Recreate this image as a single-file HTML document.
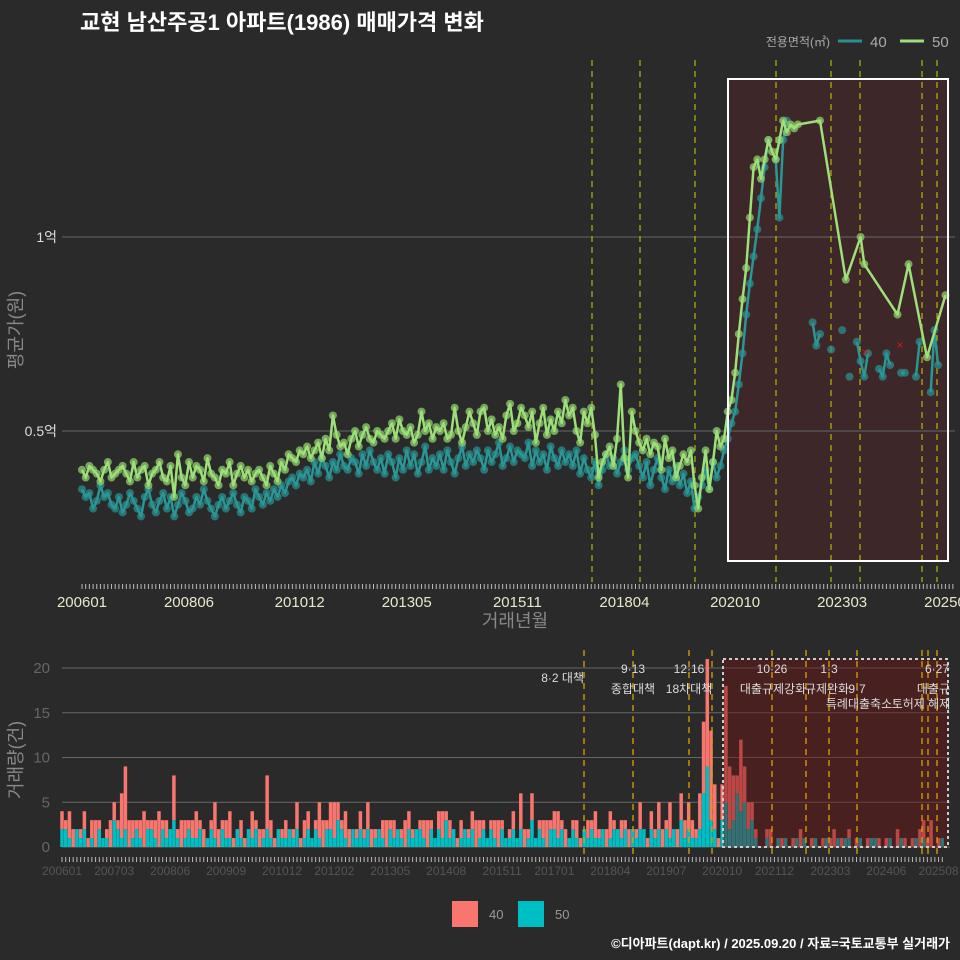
<!DOCTYPE html>
<html><head><meta charset="utf-8"><style>
html,body{margin:0;padding:0;background:#2a2a2b;}
svg{display:block;font-family:"Liberation Sans","Noto Sans CJK KR",sans-serif;}
</style></head><body>
<svg id="c" width="960" height="960" viewBox="0 0 960 960">
<rect x="0" y="0" width="960" height="960" fill="#2a2a2b"/>
<text x="80" y="30" fill="#ffffff" font-size="22" font-weight="bold">교현 남산주공1 아파트(1986) 매매가격 변화</text>
<g>
<text x="830" y="46" fill="#aaaaaa" font-size="12" text-anchor="end">전용면적(㎡)</text>
<line x1="838" y1="41" x2="862" y2="41" stroke="#2a8f8f" stroke-width="3"/>
<text x="870" y="47" fill="#aaaaaa" font-size="15">40</text>
<line x1="900" y1="41" x2="924" y2="41" stroke="#9de07a" stroke-width="3"/>
<text x="932" y="47" fill="#aaaaaa" font-size="15">50</text>
</g>
<g id="topg"></g>
<g id="botg"></g>
<g>
<rect x="452" y="901" width="26" height="26" fill="#f8766d"/>
<text x="489" y="919" fill="#999" font-size="13">40</text>
<rect x="518" y="901" width="26" height="26" fill="#00bfc4"/>
<text x="555" y="919" fill="#999" font-size="13">50</text>
</g>
<text x="950" y="948" fill="#ffffff" font-size="13" font-weight="bold" text-anchor="end">©디아파트(dapt.kr) / 2025.09.20 / 자료=국토교통부 실거래가</text>
</svg>
<script>
const price50 = [
.40,.38,.41,.40,.39,.37,.40,.42,.38,.39,.40,.41,
.39,.37,.42,.38,.40,.41,.36,.39,.40,.42,.38,.37,
.41,.33,.44,.38,.36,.42,.38,.41,.40,.37,.43,.39,
.38,.36,.40,.39,.42,.36,.39,.41,.38,.40,.37,.39,
.40,.38,.36,.41,.39,.37,.42,.40,.44,.43,.42,.45,
.44,.46,.43,.45,.47,.43,.48,.45,.54,.49,.46,.47,
.44,.48,.50,.46,.49,.51,.48,.47,.50,.49,.48,.50,
.52,.48,.53,.50,.49,.51,.47,.49,.55,.50,.52,.48,
.51,.50,.52,.48,.49,.56,.50,.47,.51,.55,.52,.49,
.55,.56,.50,.53,.49,.51,.48,.54,.57,.50,.52,.56,
.54,.51,.55,.47,.52,.56,.49,.53,.50,.55,.52,.58,
.54,.56,.50,.47,.55,.52,.56,.49,.38,.42,.44,.46,
.41,.48,.62,.43,.38,.55,.50,.47,.45,.48,.44,.47,
.46,.40,.48,.43,.45,.38,.41,.44,.42,.45,.36,.30,
.38,.45,.35,.42,.50,.46,.48,.55,.58,.65,.75,.84,
.92,1.05,1.18,1.20,1.15,1.20,1.25,1.22,1.20,1.25,1.30,1.27,
1.29,1.28,1.29,null,null,null,null,null,1.30,null,null,null,
null,null,null,.89,null,null,null,1.00,.93,null,null,null,
null,null,null,null,null,.80,null,null,.93,null,null,null,
null,.69,null,null,null,null,.85,null,null];
const price40 = [
.35,.33,.34,.30,.32,.36,.33,.34,.31,.30,.33,.29,
.31,.34,.32,.30,.28,.33,.35,.31,.29,.32,.34,.30,
.33,.28,.31,.34,.32,.29,.30,.33,.31,.35,.32,.30,
.28,.31,.33,.30,.32,.34,.31,.29,.33,.32,.30,.35,
.33,.31,.34,.32,.35,.33,.36,.34,.37,.38,.36,.39,
.38,.40,.37,.42,.39,.43,.41,.38,.42,.40,.44,.41,
.40,.43,.42,.39,.44,.41,.45,.42,.40,.43,.39,.44,
.42,.38,.43,.40,.45,.41,.44,.39,.42,.46,.40,.43,
.41,.44,.40,.45,.42,.39,.43,.46,.41,.44,.42,.45,
.43,.40,.45,.42,.44,.47,.41,.43,.46,.42,.45,.44,
.43,.47,.41,.45,.42,.44,.40,.46,.43,.41,.45,.42,
.44,.41,.45,.39,.43,.40,.38,.42,.36,.40,.44,.41,
.43,.39,.42,.45,.40,.43,.44,.41,.38,.42,.36,.40,
.43,.38,.35,.40,.37,.41,.36,.39,.34,.37,.30,.33,
.36,.40,.35,.42,.38,.41,.45,.48,.52,.55,.62,.70,
.80,.88,.95,1.02,1.10,1.18,1.25,null,1.20,1.05,1.25,1.30,
null,null,null,null,null,null,.78,.72,.75,null,null,.71,
null,null,.76,null,.64,null,.73,.68,.64,.70,null,null,
.66,.64,.70,.67,null,null,.65,.65,null,null,.64,.73,
null,null,.60,.76,.67,null,null,null,null];
const vol40 = [
2,1,3,2,0,1,2,1,2,3,1,0, 1,3,2,1,5,7,3,2,1,2,4,1, 1,2,4,1,2,0,5,1,3,2,1,2,
3,1,2,0,1,4,2,1,2,3,1,0, 2,1,0,3,1,2,1,6,2,1,0,1, 2,0,1,3,1,2,2,0,1,4,3,1,
3,4,2,1,3,2,0,1,2,1,3,2, 1,0,2,3,1,2,0,1,3,2,1,0, 1,2,3,1,0,2,3,1,2,0,1,2,
0,1,2,3,2,1,0,1,2,3,1,0, 1,2,0,4,2,1,3,0,1,2,3,1, 2,3,1,2,0,1,2,1,0,2,1,3,
1,0,2,3,1,0,2,1,2,0,1,3, 0,1,2,1,3,2,1,4,0,2,3,2, 3,2,1,4,8,12,10,5,1,4,13,7,
5,2,8,4,3,2,1,0,0,1,2,0, 0,1,0,0,1,0,2,0,0,1,0,0, 1,0,1,2,0,1,0,1,0,1,0,0,
1,0,0,1,0,1,0,0,2,0,1,0, 1,0,2,2,1,3,0,1,0];
const vol50 = [
2,2,1,0,2,1,2,0,1,0,2,1, 1,0,3,2,1,2,0,1,2,1,0,2, 2,1,0,2,1,2,3,1,0,1,2,1,
1,2,0,1,2,1,0,2,1,1,0,2, 1,0,2,1,2,0,1,2,1,0,2,1, 1,2,1,2,0,1,2,1,2,1,0,2,
2,1,3,2,1,0,2,1,2,1,2,0, 1,2,1,0,2,1,2,1,0,2,1,2, 2,1,0,2,1,2,1,3,1,2,0,1,
2,1,2,0,1,2,1,2,1,0,2,1, 1,2,1,2,0,1,3,1,2,1,0,2, 2,1,2,0,1,2,1,0,2,1,2,1,
1,2,0,1,2,2,1,2,0,2,1,2, 2,0,2,1,2,0,2,1,2,0,3,1, 2,1,1,2,6,9,3,2,0,3,5,2,
3,6,4,5,2,3,1,0,0,1,0,0, 1,0,1,0,0,1,0,1,0,0,1,0, 0,1,0,0,1,0,1,1,0,0,1,0,
0,1,1,0,0,0,1,0,0,1,0,0, 0,1,0,1,0,0,0,0,1];
const topTicks = ["200601","200806","201012","201305","201511","201804","202010","202303","202508"];
const botTicks = ["200601","200703","200806","200909","201012","201202","201305","201408","201511","201701","201804","201907","202010","202112","202303","202406","202508"];
const volTicks = [0,5,10,15,20];

const NS="http://www.w3.org/2000/svg";
function mk(parent,tag,attrs){const e=document.createElementNS(NS,tag);for(const k in attrs)e.setAttribute(k,attrs[k]);parent.appendChild(e);return e;}
function mIdx(s){return (parseInt(s.slice(0,4))-2006)*12+parseInt(s.slice(4,6))-1;}
const xT=m=>82+m*3.69;
const yT=v=>431-(v-0.5)*388;
const xB=m=>62+m*3.73;
const yB=v=>847-v*8.95;
const topG=document.getElementById('topg'), botG=document.getElementById('botg');

let hbf=mk(topG,'rect',{x:728,y:79,width:220,height:482,fill:'#3e2729'});


[[1,"1억"],[0.5,"0.5억"]].forEach(([v,l])=>{
 let g=mk(topG,'line',{x1:62,x2:955,y1:yT(v),y2:yT(v),stroke:'#666','stroke-width':1});
 
 
 let t=mk(topG,'text',{x:57,y:yT(v)+5,fill:'#dddddd','font-size':14,'text-anchor':'end'});t.textContent=l;
 
 
});
[592,640,695,776,831,860,922,937].forEach(x=>{let l=mk(topG,'line',{x1:x,x2:x,y1:60,y2:582,stroke:'#d8d800','stroke-width':1.2,'stroke-dasharray':'6,5',opacity:0.8});
 
 });
function drawSeries(arr,lineCol,dotCol,name,breakGaps){
 let segs=[[]];
 arr.forEach((v,i)=>{
  if(v!=null){segs[segs.length-1].push([xT(i),yT(v)]);}
  else if(breakGaps && segs[segs.length-1].length){segs.push([]);}
 });
 segs.forEach(pts=>{
  pts.forEach(p=>{let c=mk(topG,'circle',{cx:p[0],cy:p[1],r:4,fill:dotCol,opacity:0.75});
   
   });
  if(pts.length>1){
   let pl=mk(topG,'polyline',{points:pts.map(p=>p.join(',')).join(' '),fill:'none',stroke:lineCol,'stroke-width':2.5,'stroke-linejoin':'round'});
   
   
  }
 });
}
drawSeries(price40,'#2a9695','#2a8f8f','series-40',true);
drawSeries(price50,'#9de07a','#8fd06c','series-50',false);
[[865,352],[900,345]].forEach(p=>{let t=mk(topG,'text',{x:p[0],y:p[1]+4,fill:'#e01010','font-size':12,'text-anchor':'middle'});t.textContent='×';
 
 });
let hb=mk(topG,'rect',{x:728,y:79,width:220,height:482,fill:'none',stroke:'#ffffff','stroke-width':2});


for(let m=0;m<=236;m++){mk(topG,'line',{x1:xT(m),x2:xT(m),y1:584,y2:589,stroke:'#bbb','stroke-width':1});}
topTicks.forEach(s=>{let t=mk(topG,'text',{x:xT(mIdx(s)),y:607,fill:'#e8e8c8','font-size':15,'text-anchor':'middle'});t.textContent=s;
 
 });
let xt=mk(topG,'text',{x:515,y:627,fill:'#888','font-size':18,'text-anchor':'middle'});xt.textContent='거래년월';


let yt=mk(topG,'text',{x:0,y:0,fill:'#888','font-size':18,'text-anchor':'middle',transform:'translate(22,330) rotate(-90)'});yt.textContent='평균가(원)';



volTicks.forEach(v=>{let g=mk(botG,'line',{x1:62,x2:950,y1:yB(v),y2:yB(v),stroke:'#666','stroke-width':1});
 
 
 let t=mk(botG,'text',{x:50,y:yB(v)+5,fill:'#666','font-size':15,'text-anchor':'end'});t.textContent=v;
 
 });
const bw=3.5;
vol50.forEach((v,i)=>{
 const a=vol40[i]||0;
 if(v>0){let r=mk(botG,'rect',{x:xB(i)-bw/2,y:yB(v),width:bw,height:v*8.95,fill:'#00bfc4'});
  
  }
 if(a>0){let r=mk(botG,'rect',{x:xB(i)-bw/2,y:yB(v+a),width:bw,height:a*8.95,fill:'#f8766d'});
  
  }
});
let hb2=mk(botG,'rect',{x:723,y:659,width:225,height:188,fill:'rgba(110,20,20,0.45)',stroke:'#cccccc','stroke-width':2,'stroke-dasharray':'3,3'});


[584,633,689,712,772,806,829,857,922,928,937].forEach(x=>{let l=mk(botG,'line',{x1:x,x2:x,y1:650,y2:858,stroke:'#e0a000','stroke-width':1.3,'stroke-dasharray':'6,5'});
 
 });
for(let m=0;m<=236;m++){mk(botG,'line',{x1:xB(m),x2:xB(m),y1:857,y2:862,stroke:'#bbb','stroke-width':1});}
botTicks.forEach(s=>{let t=mk(botG,'text',{x:xB(mIdx(s)),y:875,fill:'#555','font-size':12,'text-anchor':'middle'});t.textContent=s;
 
 });
const notes=[["8·2 대책",584,682,'end'],["9·13",633,673,'middle'],["종합대책",633,693,'middle'],["12·16",689,673,'middle'],["18차대책",689,693,'middle'],["10·26",772,673,'middle'],["대출규제강화",773,693,'middle'],["1·3",829,673,'middle'],["규제완화",827,693,'middle'],["9·7",857,693,'middle'],["특례대출축소",859,708,'middle'],["토허제 해제",921,708,'middle'],["6·27",937,673,'middle'],["대출규",950,693,'end']];
notes.forEach(n=>{let t=mk(botG,'text',{x:n[1],y:n[2],fill:'#dddddd','font-size':12,'text-anchor':n[3]});t.textContent=n[0];
 
 });
let yt2=mk(botG,'text',{x:0,y:0,fill:'#888','font-size':18,'text-anchor':'middle',transform:'translate(22,760) rotate(-90)'});yt2.textContent='거래량(건)';


</script>
</body></html>
